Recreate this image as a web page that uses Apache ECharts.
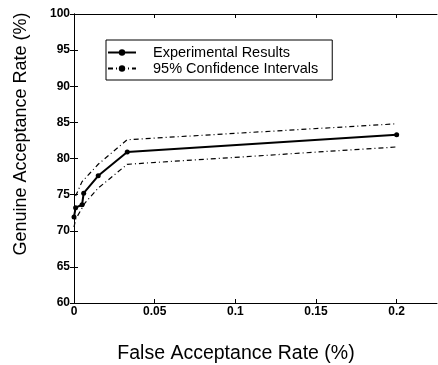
<!DOCTYPE html>
<html><head><meta charset="utf-8">
<script src="https://cdn.jsdelivr.net/npm/echarts@6/dist/echarts.min.js"></script>
<style>html,body{margin:0;padding:0;background:#fff}#c{width:438px;height:365px}</style>
</head><body><div id="c"></div>
<script>
const far = [0, 0.001, 0.005, 0.006, 0.015, 0.033, 0.2];
const gar = [71.9, 73.2, 73.6, 75.2, 77.6, 80.9, 83.3];
const upperFar = [0.001, 0.005, 0.015, 0.033, 0.2];
const upperGar = [74.8, 76.8, 79.2, 82.6, 84.8];
const lowerFar = [0, 0.001, 0.007, 0.015, 0.033, 0.2];
const lowerGar = [70.5, 71.6, 73.9, 75.9, 79.2, 81.6];
const xTickValues = [0, 0.05, 0.1, 0.15, 0.2];
const xTickLabels = ['0', '0.05', '0.1', '0.15', '0.2'];
const seriesNames = ['Experimental Results', '95% Confidence Intervals'];
const xName = 'False Acceptance Rate (%)';
const yName = 'Genuine Acceptance Rate (%)';

const zip = (a, b) => a.map((v, i) => [v, b[i]]);
const font = '"Liberation Sans", Arial, sans-serif';
const dash = [5, 3, 1, 3];

const chart = echarts.init(document.getElementById('c'), null, {renderer: 'canvas'});
const xBase = {
  type: 'value', min: 0, max: 0.225, interval: 0.05,
  splitLine: {show: false},
  axisLine: {show: true, lineStyle: {color: '#000', width: 1}},
  axisTick: {show: true, inside: true, length: 4, customValues: xTickValues, lineStyle: {color: '#000'}}
};
const yBase = {
  type: 'value', min: 60, max: 100, interval: 5,
  splitLine: {show: false},
  axisLine: {show: true, lineStyle: {color: '#000', width: 1}},
  axisTick: {show: true, inside: true, length: 4, lineStyle: {color: '#000'}}
};
chart.setOption({
  animation: false,
  backgroundColor: '#fff',
  grid: {left: 74, top: 14, right: 1, bottom: 62, show: false},
  legend: {
    data: [
      {name: seriesNames[0]},
      {name: seriesNames[1]}
    ],
    orient: 'vertical', left: 106, top: 40,
    itemWidth: 28, itemHeight: 8, itemGap: 1,
    padding: [5, 14, 4, 1],
    borderColor: '#000', borderWidth: 1, borderRadius: 0,
    backgroundColor: '#fff',
    textStyle: {fontFamily: font, fontSize: 14.5, lineHeight: 12, color: '#000', padding: [0, 0, 0, 12]}
  },
  xAxis: [
    Object.assign({}, xBase, {
      position: 'bottom',
      axisLabel: {
        color: '#000', fontFamily: font, fontSize: 12, fontWeight: 'bold', margin: 3,
        customValues: xTickValues,
        formatter: v => { const i = xTickValues.findIndex(t => Math.abs(t - v) < 1e-9); return i >= 0 ? xTickLabels[i] : ''; }
      }
    }),
    Object.assign({}, xBase, {position: 'top', axisLabel: {show: false}})
  ],
  yAxis: [
    Object.assign({}, yBase, {
      position: 'left',
      axisLabel: {color: '#000', fontFamily: font, fontSize: 12, fontWeight: 'bold', margin: 4}
    }),
    Object.assign({}, yBase, {position: 'right', axisLabel: {show: false}})
  ],
  series: [
    {
      name: seriesNames[0], type: 'line', data: zip(far, gar),
      symbol: 'circle', symbolSize: 5, showSymbol: true,
      lineStyle: {color: '#000', width: 2},
      itemStyle: {color: '#000'}
    },
    {
      name: seriesNames[1], type: 'line', data: zip(upperFar, upperGar),
      symbol: 'none',
      lineStyle: {color: '#000', width: 1.2, type: dash},
      itemStyle: {color: '#000'}
    },
    {
      name: seriesNames[1], type: 'line', data: zip(lowerFar, lowerGar),
      symbol: 'none',
      lineStyle: {color: '#000', width: 1.2, type: dash},
      itemStyle: {color: '#000'}
    }
  ],
  graphic: [
    {type: 'text', position: [236, 354],
     style: {text: xName, font: '19.5px ' + font, fill: '#000', align: 'center', verticalAlign: 'middle'}},
    {type: 'text', rotation: Math.PI / 2, position: [21, 134],
     style: {text: yName, font: '18px ' + font, fill: '#000', align: 'center', verticalAlign: 'middle'}}
  ]
});
</script>
</body></html>
